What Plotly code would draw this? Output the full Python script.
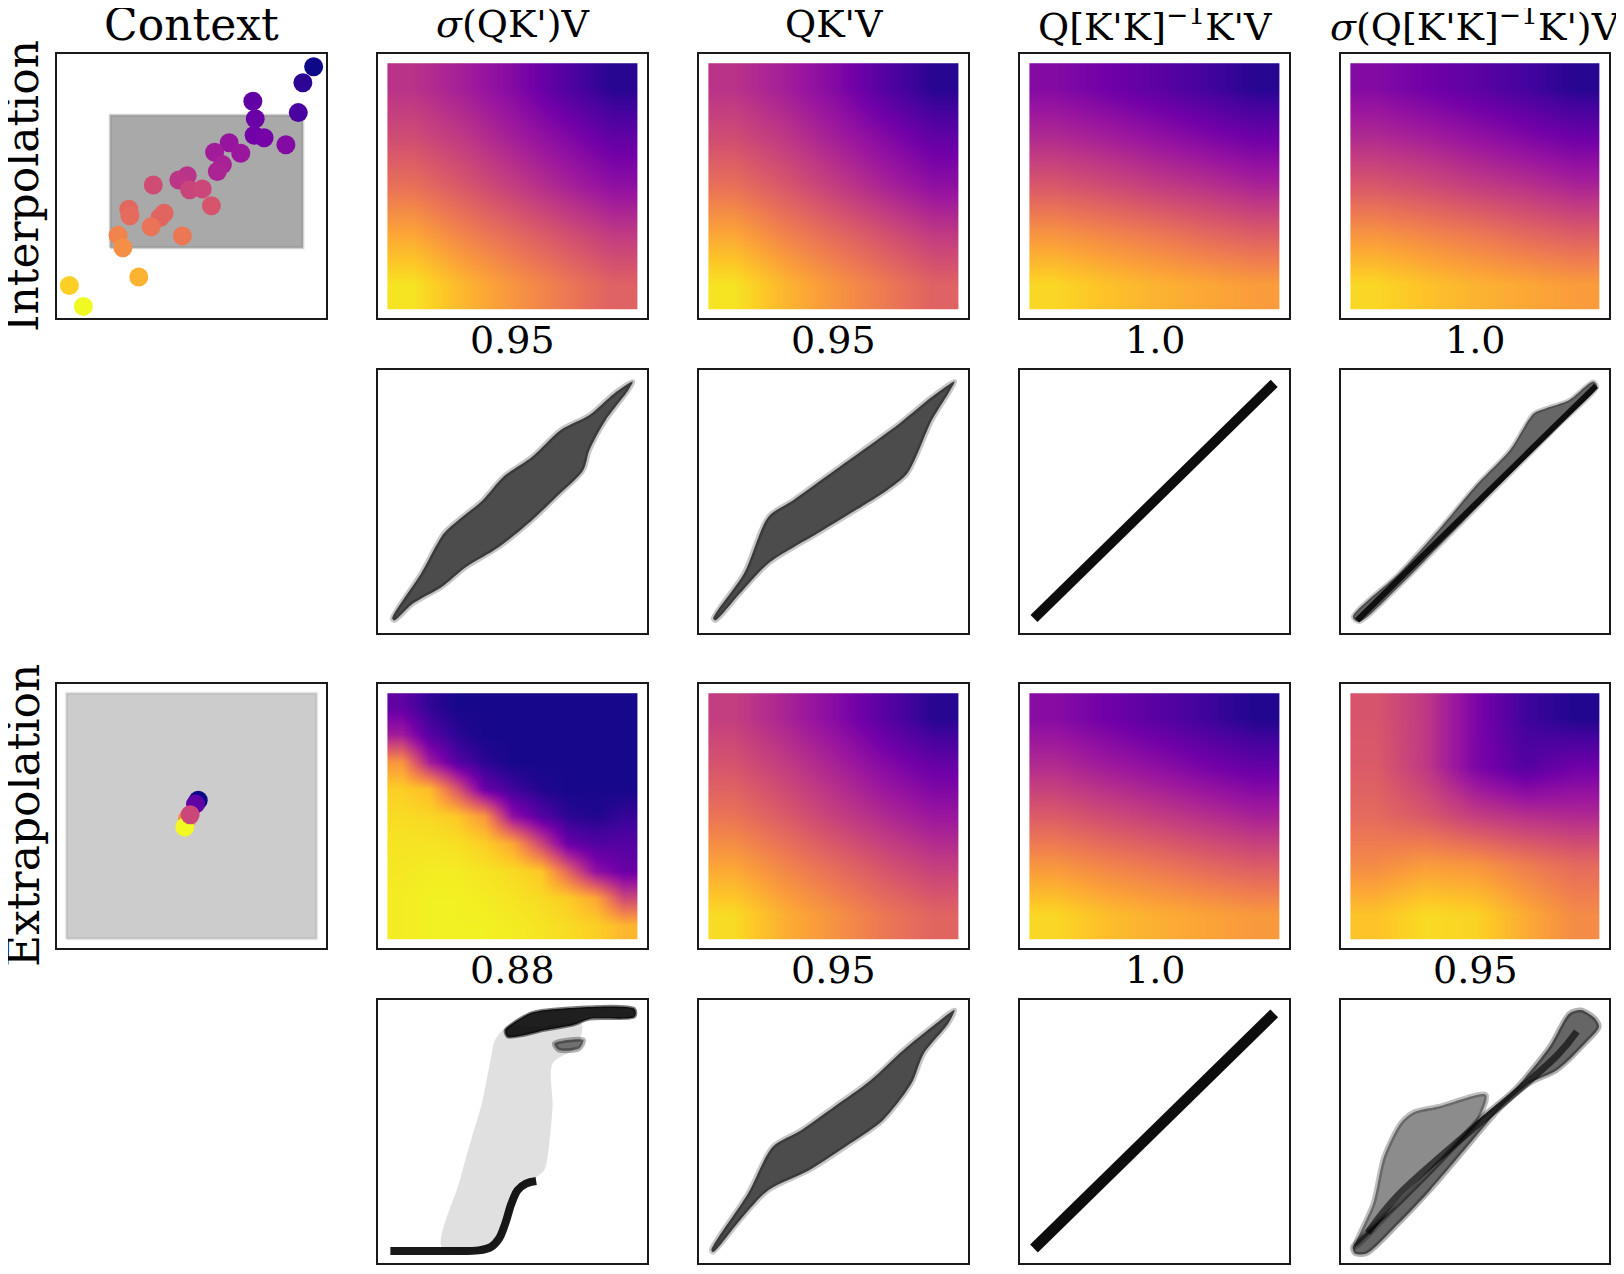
import plotly.graph_objects as go

PAGE_W, PAGE_H = 1624, 1274
BODY = 8                      # default body margin of the html page
W, H = PAGE_W - 2 * BODY, PAGE_H - 2 * BODY

# ---- text -------------------------------------------------------------
col_titles = ["Context", "<i>σ</i>(QK')V", "QK'V",
              "Q[K'K]<sup>−1</sup>K'V", "<i>σ</i>(Q[K'K]<sup>−1</sup>K')V"]
row_labels = ["Interpolation", "Extrapolation"]
scores_interp = ["0.95", "0.95", "1.0", "1.0"]
scores_extrap = ["0.88", "0.95", "1.0", "0.95"]

# ---- context panels (panel fraction coordinates) ------------------------
ctx_interp_x = [0.954, 0.914, 0.897, 0.728, 0.737, 0.733, 0.770, 0.851, 0.640, 0.586,
                0.683, 0.615, 0.596, 0.484, 0.453, 0.493, 0.540, 0.358, 0.574, 0.267,
                0.271, 0.398, 0.383, 0.350, 0.466, 0.227, 0.245, 0.304, 0.046, 0.098]
ctx_interp_y = [0.952, 0.891, 0.778, 0.821, 0.755, 0.692, 0.683, 0.656, 0.664, 0.628,
                0.624, 0.581, 0.555, 0.539, 0.523, 0.486, 0.489, 0.504, 0.425, 0.412,
                0.387, 0.397, 0.381, 0.346, 0.311, 0.313, 0.266, 0.155, 0.123, 0.044]
ctx_interp_t = [0.00, 0.06, 0.12, 0.18, 0.20, 0.22, 0.23, 0.27, 0.32, 0.35,
                0.33, 0.37, 0.38, 0.43, 0.44, 0.49, 0.50, 0.52, 0.55, 0.61,
                0.62, 0.60, 0.60, 0.65, 0.66, 0.70, 0.73, 0.83, 0.90, 1.00]

ctx_extrap_x = [0.525, 0.515, 0.485, 0.475, 0.495]
ctx_extrap_y = [0.560, 0.545, 0.490, 0.458, 0.505]
ctx_extrap_t = [0.00, 0.18, 0.72, 1.00, 0.50]

cloud_interp_x = [0.198, 0.914, 0.914, 0.198]
cloud_interp_y = [0.266, 0.266, 0.768, 0.768]
cloud_extrap_x = [0.035, 0.965, 0.965, 0.035]
cloud_extrap_y = [0.035, 0.035, 0.965, 0.965]

# ---- colour fields (plasma value, rows bottom -> top) -------------------
edges5 = [0.035, 0.221, 0.407, 0.593, 0.779, 0.965]
edges9 = [0.035, 0.138, 0.242, 0.345, 0.448, 0.552, 0.655, 0.758, 0.862, 0.965]

z_interp_1 = [[0.95, 0.84, 0.75, 0.67, 0.59],
              [0.80, 0.70, 0.62, 0.54, 0.46],
              [0.64, 0.56, 0.47, 0.38, 0.30],
              [0.52, 0.45, 0.36, 0.27, 0.18],
              [0.43, 0.36, 0.27, 0.15, 0.05]]
z_interp_2 = [[0.95, 0.84, 0.75, 0.67, 0.59],
              [0.80, 0.70, 0.62, 0.54, 0.46],
              [0.64, 0.56, 0.47, 0.38, 0.30],
              [0.52, 0.45, 0.36, 0.27, 0.18],
              [0.43, 0.36, 0.27, 0.15, 0.05]]
z_interp_3 = [[0.92, 0.87, 0.83, 0.80, 0.77],
              [0.75, 0.71, 0.67, 0.62, 0.58],
              [0.56, 0.52, 0.47, 0.43, 0.38],
              [0.40, 0.36, 0.31, 0.26, 0.21],
              [0.27, 0.22, 0.17, 0.11, 0.05]]
z_interp_4 = [[0.92, 0.87, 0.83, 0.80, 0.77],
              [0.75, 0.71, 0.67, 0.62, 0.58],
              [0.56, 0.52, 0.47, 0.43, 0.38],
              [0.40, 0.36, 0.31, 0.26, 0.21],
              [0.27, 0.22, 0.17, 0.11, 0.05]]

z_extrap_1 = [[0.97, 0.98, 0.98, 0.98, 0.97, 0.95, 0.93, 0.90, 0.84],
              [0.97, 0.98, 0.98, 0.97, 0.95, 0.93, 0.89, 0.80, 0.50],
              [0.96, 0.97, 0.97, 0.95, 0.93, 0.88, 0.60, 0.30, 0.20],
              [0.95, 0.95, 0.94, 0.90, 0.80, 0.50, 0.20, 0.14, 0.15],
              [0.93, 0.92, 0.88, 0.75, 0.30, 0.15, 0.06, 0.04, 0.08],
              [0.90, 0.85, 0.55, 0.20, 0.10, 0.04, 0.02, 0.02, 0.02],
              [0.75, 0.35, 0.15, 0.06, 0.02, 0.02, 0.02, 0.02, 0.02],
              [0.35, 0.15, 0.06, 0.02, 0.02, 0.02, 0.02, 0.02, 0.02],
              [0.18, 0.07, 0.02, 0.02, 0.02, 0.02, 0.02, 0.02, 0.02]]
z_extrap_2 = [[0.93, 0.82, 0.74, 0.66, 0.60],
              [0.79, 0.70, 0.62, 0.54, 0.47],
              [0.65, 0.57, 0.48, 0.40, 0.33],
              [0.55, 0.47, 0.38, 0.28, 0.20],
              [0.47, 0.38, 0.28, 0.16, 0.05]]
z_extrap_3 = [[0.92, 0.86, 0.82, 0.79, 0.76],
              [0.75, 0.70, 0.66, 0.61, 0.57],
              [0.57, 0.52, 0.47, 0.42, 0.37],
              [0.41, 0.35, 0.30, 0.24, 0.19],
              [0.28, 0.22, 0.16, 0.10, 0.04]]
z_extrap_4 = [[0.87, 0.93, 0.91, 0.81, 0.72],
              [0.72, 0.77, 0.75, 0.68, 0.62],
              [0.62, 0.56, 0.47, 0.42, 0.40],
              [0.57, 0.45, 0.25, 0.15, 0.22],
              [0.55, 0.45, 0.25, 0.10, 0.04]]

# ---- predicted vs. true panels (outlines) -------------------------------
lens_interp_1_x = [0.053, 0.160, 0.244, 0.298, 0.389, 0.466, 0.573, 0.679, 0.786, 0.878, 0.947,
                   0.931, 0.847, 0.786, 0.763, 0.664, 0.573, 0.450, 0.328, 0.237, 0.130, 0.061]
lens_interp_1_y = [0.055, 0.226, 0.378, 0.429, 0.505, 0.594, 0.670, 0.772, 0.829, 0.911, 0.956,
                   0.924, 0.810, 0.695, 0.619, 0.518, 0.429, 0.327, 0.251, 0.175, 0.112, 0.048]
lens_interp_2_x = [0.053, 0.167, 0.258, 0.350, 0.471, 0.608, 0.745, 0.866, 0.950,
                   0.927, 0.866, 0.775, 0.700, 0.562, 0.440, 0.258, 0.152, 0.061]
lens_interp_2_y = [0.055, 0.226, 0.442, 0.505, 0.594, 0.695, 0.797, 0.898, 0.956,
                   0.911, 0.810, 0.607, 0.543, 0.454, 0.378, 0.264, 0.150, 0.048]
line_interp_3_x = [0.052, 0.945]
line_interp_3_y = [0.055, 0.949]
wedge_interp_4_x = [0.044, 0.215, 0.363, 0.511, 0.630, 0.719, 0.763, 0.852, 0.941,
                    0.956, 0.807, 0.659, 0.511, 0.363, 0.215, 0.067]
wedge_interp_4_y = [0.061, 0.226, 0.391, 0.569, 0.695, 0.835, 0.854, 0.886, 0.956,
                    0.937, 0.784, 0.632, 0.480, 0.327, 0.175, 0.042]
edge_interp_4_x = [0.060, 0.952]
edge_interp_4_y = [0.048, 0.940]

sig_low_x = [0.046, 0.237, 0.374, 0.420, 0.450, 0.473, 0.496, 0.519, 0.550, 0.588]
sig_low_y = [0.046, 0.046, 0.048, 0.061, 0.093, 0.150, 0.226, 0.277, 0.302, 0.312]
sig_top_x = [0.473, 0.511, 0.573, 0.664, 0.954, 0.954, 0.786, 0.725, 0.618, 0.542, 0.481]
sig_top_y = [0.886, 0.918, 0.952, 0.966, 0.966, 0.936, 0.928, 0.905, 0.885, 0.866, 0.860]
sig_blob_x = [0.656, 0.763, 0.748, 0.672]
sig_blob_y = [0.835, 0.848, 0.816, 0.810]
sig_cloud_x = [0.237, 0.300, 0.328, 0.370, 0.389, 0.420, 0.435, 0.481, 0.600, 0.756, 0.740,
               0.649, 0.649, 0.630, 0.618, 0.542, 0.466, 0.420]
sig_cloud_y = [0.061, 0.300, 0.404, 0.550, 0.619, 0.780, 0.848, 0.898, 0.900, 0.911, 0.822,
               0.759, 0.594, 0.400, 0.353, 0.290, 0.124, 0.061]
lens_extrap_2_x = [0.046, 0.182, 0.274, 0.380, 0.502, 0.638, 0.760, 0.866, 0.950,
                   0.927, 0.836, 0.790, 0.684, 0.562, 0.410, 0.258, 0.152, 0.053]
lens_extrap_2_y = [0.048, 0.264, 0.442, 0.505, 0.594, 0.695, 0.810, 0.898, 0.962,
                   0.911, 0.797, 0.683, 0.543, 0.454, 0.353, 0.277, 0.162, 0.042]
line_extrap_3_x = [0.052, 0.945]
line_extrap_3_y = [0.055, 0.949]
band_extrap_4_x = [0.044, 0.215, 0.363, 0.511, 0.644, 0.778, 0.852, 0.896, 0.948, 0.963,
                   0.911, 0.807, 0.704, 0.600, 0.481, 0.333, 0.215, 0.096, 0.052]
band_extrap_4_y = [0.061, 0.226, 0.378, 0.543, 0.657, 0.822, 0.949, 0.962, 0.930, 0.898,
                   0.835, 0.734, 0.683, 0.594, 0.454, 0.277, 0.150, 0.036, 0.036]
fan_extrap_4_x = [0.052, 0.120, 0.160, 0.225, 0.274, 0.363, 0.541, 0.511, 0.363, 0.215]
fan_extrap_4_y = [0.061, 0.226, 0.404, 0.535, 0.575, 0.595, 0.640, 0.543, 0.378, 0.226]
core_extrap_4_x = [0.100, 0.215, 0.807, 0.880]
core_extrap_4_y = [0.115, 0.260, 0.790, 0.880]

# ---- layout geometry (page pixels) --------------------------------------
col_px = [(57, 326), (378, 647), (699, 968), (1020, 1289), (1341, 1609)]
row_px = [(54, 318), (370, 633), (684, 948), (1000, 1263)]
SERIF = "DejaVu Serif"


def fx(p):
    return (p - BODY) / W


def fy(p):
    return 1 - (p - BODY) / H


fig = go.Figure()
layout_axes = {}


def add_panel(r, c):
    k = r * 5 + c + 1
    xid = "x" if k == 1 else f"x{k}"
    yid = "y" if k == 1 else f"y{k}"
    x0, x1 = col_px[c]
    y0, y1 = row_px[r]
    common = dict(range=[0, 1], showgrid=False, zeroline=False, showticklabels=False,
                  ticks="", showline=True, mirror=True, linecolor="#1a1a1a",
                  linewidth=2, fixedrange=True)
    layout_axes["xaxis" if k == 1 else f"xaxis{k}"] = dict(
        domain=[fx(x0), fx(x1)], anchor=yid, **common)
    layout_axes["yaxis" if k == 1 else f"yaxis{k}"] = dict(
        domain=[fy(y1), fy(y0)], anchor=xid, **common)
    return xid, yid


def poly(xid, yid, xs, ys, color, edge=None, width=0, smooth=True):
    fig.add_trace(go.Scatter(x=xs + xs[:1], y=ys + ys[:1], xaxis=xid, yaxis=yid,
                             mode="lines" if edge else "none", fill="toself",
                             fillcolor=color,
                             line=dict(color=edge or color, width=width,
                                       shape="spline" if smooth else "linear",
                                       smoothing=0.8),
                             hoverinfo="skip", showlegend=False))


def line(xid, yid, xs, ys, color, width):
    fig.add_trace(go.Scatter(x=xs, y=ys, xaxis=xid, yaxis=yid, mode="lines",
                             line=dict(color=color, width=width, shape="spline"),
                             hoverinfo="skip", showlegend=False))


def heat(xid, yid, z, edges):
    fig.add_trace(go.Heatmap(z=z, x=edges, y=edges, xaxis=xid, yaxis=yid,
                             colorscale="Plasma", zmin=0, zmax=1, zsmooth="best",
                             showscale=False, hoverinfo="skip"))


def context(xid, yid, cx, cy, gray, edge, px, py, pt):
    poly(xid, yid, cx, cy, gray, edge=edge, width=3, smooth=False)
    fig.add_trace(go.Scatter(x=px, y=py, xaxis=xid, yaxis=yid, mode="markers",
                             marker=dict(size=19, color=pt, colorscale="Plasma",
                                         cmin=0, cmax=1, line=dict(width=0)),
                             hoverinfo="skip", showlegend=False))


# row 0: interpolation colour fields
xid, yid = add_panel(0, 0)
context(xid, yid, cloud_interp_x, cloud_interp_y, "rgba(128,128,128,0.68)",
        "rgba(128,128,128,0.35)", ctx_interp_x, ctx_interp_y, ctx_interp_t)
for c, z in enumerate([z_interp_1, z_interp_2, z_interp_3, z_interp_4], start=1):
    xid, yid = add_panel(0, c)
    heat(xid, yid, z, edges5)

# row 1: interpolation predicted vs true
DARK = "rgba(25,25,25,0.78)"
SOFT = "rgba(0,0,0,0.22)"
xid, yid = add_panel(1, 1)
poly(xid, yid, lens_interp_1_x, lens_interp_1_y, DARK, edge=SOFT, width=5)
xid, yid = add_panel(1, 2)
poly(xid, yid, lens_interp_2_x, lens_interp_2_y, DARK, edge=SOFT, width=5)
xid, yid = add_panel(1, 3)
line(xid, yid, line_interp_3_x, line_interp_3_y, "rgba(0,0,0,0.95)", 10)
xid, yid = add_panel(1, 4)
poly(xid, yid, wedge_interp_4_x, wedge_interp_4_y, "rgba(0,0,0,0.6)", edge=SOFT, width=4)
line(xid, yid, edge_interp_4_x, edge_interp_4_y, "rgba(0,0,0,0.85)", 6)

# row 2: extrapolation colour fields
xid, yid = add_panel(2, 0)
context(xid, yid, cloud_extrap_x, cloud_extrap_y, "rgba(128,128,128,0.40)",
        "rgba(128,128,128,0.2)", ctx_extrap_x, ctx_extrap_y, ctx_extrap_t)
xid, yid = add_panel(2, 1)
heat(xid, yid, z_extrap_1, edges9)
for c, z in enumerate([z_extrap_2, z_extrap_3, z_extrap_4], start=2):
    xid, yid = add_panel(2, c)
    heat(xid, yid, z, edges5)

# row 3: extrapolation predicted vs true
xid, yid = add_panel(3, 1)
poly(xid, yid, sig_cloud_x, sig_cloud_y, "rgba(0,0,0,0.12)")
poly(xid, yid, sig_blob_x, sig_blob_y, "rgba(0,0,0,0.5)", edge="rgba(0,0,0,0.3)", width=5)
poly(xid, yid, sig_top_x, sig_top_y, "rgba(0,0,0,0.88)", edge="rgba(0,0,0,0.5)", width=3)
line(xid, yid, sig_low_x, sig_low_y, "rgba(0,0,0,0.9)", 8)
xid, yid = add_panel(3, 2)
poly(xid, yid, lens_extrap_2_x, lens_extrap_2_y, DARK, edge=SOFT, width=5)
xid, yid = add_panel(3, 3)
line(xid, yid, line_extrap_3_x, line_extrap_3_y, "rgba(0,0,0,0.95)", 11)
xid, yid = add_panel(3, 4)
poly(xid, yid, fan_extrap_4_x, fan_extrap_4_y, "rgba(0,0,0,0.45)", edge="rgba(0,0,0,0.25)", width=5)
poly(xid, yid, band_extrap_4_x, band_extrap_4_y, "rgba(0,0,0,0.6)", edge="rgba(0,0,0,0.3)", width=5)
line(xid, yid, core_extrap_4_x, core_extrap_4_y, "rgba(0,0,0,0.6)", 7)

# ---- annotations ----------------------------------------------------------
annotations = []
for c, title in enumerate(col_titles):
    x0, x1 = col_px[c]
    annotations.append(dict(text=title, x=fx((x0 + x1) / 2), y=fy(24),
                            xref="paper", yref="paper", showarrow=False,
                            xanchor="center", yanchor="middle",
                            font=dict(family=SERIF, size=44 if c == 0 else 38,
                                      color="black")))
for r, label in zip([0, 2], row_labels):
    y0, y1 = row_px[r]
    annotations.append(dict(text=label, x=fx(23), y=fy((y0 + y1) / 2),
                            xref="paper", yref="paper", showarrow=False, textangle=-90,
                            xanchor="center", yanchor="middle",
                            font=dict(family=SERIF, size=44, color="black")))
for r, scores in zip([0, 2], [scores_interp, scores_extrap]):
    for c, s in enumerate(scores, start=1):
        x0, x1 = col_px[c]
        annotations.append(dict(text=s, x=fx((x0 + x1) / 2), y=fy(row_px[r][1] + 22),
                                xref="paper", yref="paper", showarrow=False,
                                xanchor="center", yanchor="middle",
                                font=dict(family=SERIF, size=38, color="black")))

fig.update_layout(width=W, height=H, margin=dict(l=0, r=0, t=0, b=0),
                  paper_bgcolor="white", plot_bgcolor="white",
                  showlegend=False, annotations=annotations, **layout_axes)

fig.write_html("out.html")
